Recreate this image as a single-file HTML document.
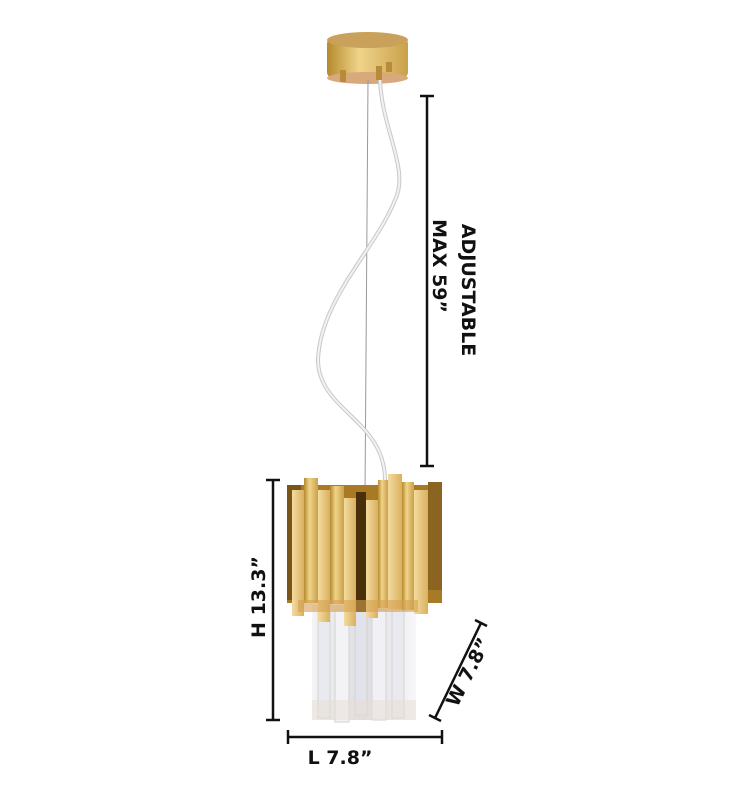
<!DOCTYPE html>
<html><head><style>
html,body{margin:0;padding:0;background:#fff;width:730px;height:800px;overflow:hidden}
svg{display:block}
text{font-family:"DejaVu Sans","Liberation Sans",sans-serif;font-weight:bold;fill:#111}
</style></head><body>
<svg width="730" height="800" viewBox="0 0 730 800" xmlns="http://www.w3.org/2000/svg">
<defs>
<linearGradient id="g" x1="0" x2="1">
<stop offset="0" stop-color="#b58a2e"/><stop offset="0.4" stop-color="#f0d48a"/><stop offset="1" stop-color="#c9a04a"/>
</linearGradient>
<linearGradient id="g2" x1="0" x2="1">
<stop offset="0" stop-color="#f3dc9f"/><stop offset="1" stop-color="#d9b060"/>
</linearGradient>
<linearGradient id="cr" x1="0" x2="1">
<stop offset="0" stop-color="#f4f4f7"/><stop offset="0.5" stop-color="#dcdde4"/><stop offset="1" stop-color="#f7f7f9"/>
</linearGradient>
</defs>
<rect x="327" y="38" width="81" height="40" rx="6" fill="url(#g)"/>
<ellipse cx="367.5" cy="40" rx="40.5" ry="8" fill="#c9a15a"/>
<ellipse cx="367.5" cy="78" rx="40.5" ry="6" fill="#d8a97a"/>
<rect x="340" y="70" width="6" height="12" fill="#b88a3a"/>
<rect x="376" y="66" width="6" height="14" fill="#b88a3a"/>
<rect x="386" y="62" width="6" height="10" fill="#b88a3a"/>
<line x1="368" y1="80" x2="365" y2="495" stroke="#999" stroke-width="1"/>
<path d="M380 80 C382 130 410 170 395 200 C375 250 320 300 318 360 C318 410 385 420 385 480" fill="none" stroke="#c8c8cc" stroke-width="4"/>
<path d="M380 80 C382 130 410 170 395 200 C375 250 320 300 318 360 C318 410 385 420 385 480" fill="none" stroke="#f2f2f4" stroke-width="2"/>
<g>
<rect x="312" y="605" width="104" height="115" fill="url(#cr)"/>
<rect x="318" y="610" width="12" height="108" fill="#e9eaf0" stroke="#d6d2cc"/>
<rect x="335" y="610" width="14" height="112" fill="#f3f3f6" stroke="#d6d2cc"/>
<rect x="355" y="610" width="12" height="105" fill="#e2e3ea" stroke="#d6d2cc"/>
<rect x="372" y="610" width="14" height="110" fill="#f1f1f5" stroke="#d6d2cc"/>
<rect x="392" y="610" width="12" height="108" fill="#e9eaf0" stroke="#d6d2cc"/>
<rect x="312" y="700" width="104" height="20" fill="#e8ded4" opacity="0.5"/>
</g>
<g>
<rect x="287" y="485" width="155" height="118" fill="#a97a26"/>
<rect x="287" y="485" width="14" height="115" fill="#7a5518"/>
<rect x="292" y="490" width="12" height="126" fill="url(#g2)"/>
<rect x="304" y="478" width="14" height="125" fill="url(#g)"/>
<rect x="318" y="490" width="12" height="132" fill="url(#g2)"/>
<rect x="330" y="486" width="14" height="118" fill="url(#g)"/>
<rect x="344" y="498" width="12" height="128" fill="url(#g2)"/>
<rect x="356" y="492" width="10" height="120" fill="#4a300a"/>
<rect x="366" y="500" width="12" height="118" fill="url(#g2)"/>
<rect x="378" y="480" width="10" height="128" fill="url(#g)"/>
<rect x="388" y="474" width="14" height="135" fill="url(#g2)"/>
<rect x="402" y="482" width="12" height="128" fill="url(#g)"/>
<rect x="414" y="490" width="14" height="124" fill="url(#g2)"/>
<rect x="428" y="482" width="14" height="108" fill="#8a6420"/>
<rect x="298" y="600" width="120" height="12" fill="#d6a050" opacity="0.6"/>
</g>
<g stroke="#111" stroke-width="2.5" fill="none">
<line x1="427" y1="96" x2="427" y2="466"/>
<line x1="420" y1="96" x2="434" y2="96"/>
<line x1="420" y1="466" x2="434" y2="466"/>
<line x1="273" y1="480" x2="273" y2="720"/>
<line x1="266" y1="480" x2="280" y2="480"/>
<line x1="266" y1="720" x2="280" y2="720"/>
<line x1="288" y1="737" x2="442" y2="737"/>
<line x1="288" y1="730" x2="288" y2="744"/>
<line x1="442" y1="730" x2="442" y2="744"/>
<line x1="435" y1="718" x2="481" y2="623"/>
<line x1="429" y1="715" x2="441" y2="721"/>
<line x1="475" y1="620" x2="487" y2="626"/>
</g>
<text x="0" y="0" font-size="19" transform="translate(462,290) rotate(90)" text-anchor="middle">ADJUSTABLE</text>
<text x="0" y="0" font-size="19" transform="translate(433,266) rotate(90)" text-anchor="middle">MAX 59”</text>
<text x="0" y="0" font-size="19" transform="translate(265,597) rotate(-90)" text-anchor="middle">H 13.3”</text>
<text x="340" y="764" font-size="19" text-anchor="middle">L 7.8”</text>
<text x="0" y="0" font-size="19" transform="translate(474,675) rotate(-63)" text-anchor="middle">W 7.8”</text>
</svg>
</body></html>
